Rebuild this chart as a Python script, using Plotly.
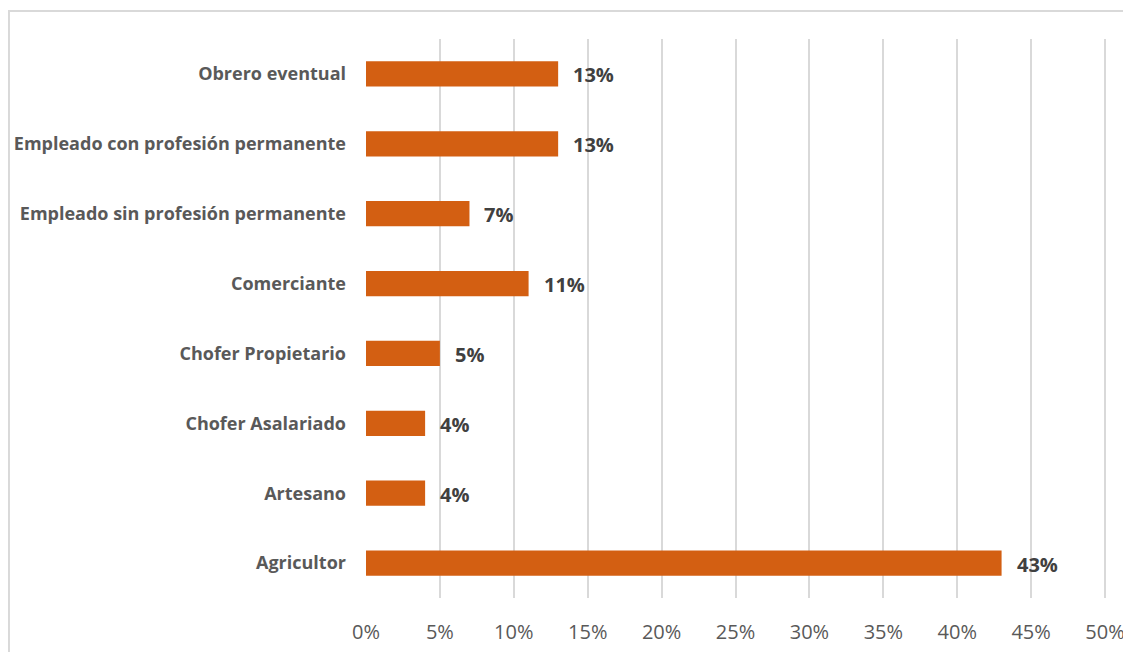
import plotly.graph_objects as go

categories = ["Agricultor", "Artesano", "Chofer Asalariado", "Chofer Propietario",
              "Comerciante", "Empleado sin profesión permanente",
              "Empleado con profesión permanente", "Obrero eventual"]
values = [43, 4, 4, 5, 11, 7, 13, 13]
tick_vals = [0, 5, 10, 15, 20, 25, 30, 35, 40, 45, 50]
tick_text = [f"{v}%" for v in tick_vals]

BAR = "#D35F12"
FONT = "Open Sans"

fig = go.Figure(go.Bar(
    y=categories, x=values, orientation="h",
    marker=dict(color=BAR, line=dict(width=0)),
    width=0.36, hoverinfo="skip",
))

for c, v in zip(categories, values):
    fig.add_annotation(x=v, y=c, text=f"<b>{v}%</b>", showarrow=False,
                       xanchor="left", xshift=13, yshift=-1,
                       font=dict(family=FONT, size=20, color="#404040"))

fig.add_shape(type="rect", xref="paper", yref="paper",
              x0=-0.4812, x1=1.2, y0=-0.3, y1=1.05,
              line=dict(color="#D9D9D9", width=2), layer="below")

fig.update_layout(
    width=1123, height=644,
    margin=dict(l=358, r=23, t=31, b=54, autoexpand=False),
    paper_bgcolor="white", plot_bgcolor="white",
    showlegend=False,
    xaxis=dict(range=[0, 50.2], tickvals=tick_vals, ticktext=tick_text,
               showgrid=True, gridcolor="#D9D9D9", gridwidth=2,
               zeroline=False, showline=False, automargin=False,
               tickfont=dict(family=FONT, size=20, color="#595959"),
               ticklabelstandoff=20, fixedrange=True),
    yaxis=dict(categoryorder="array", categoryarray=categories,
               showgrid=False, zeroline=False, showline=False, automargin=False,
               tickfont=dict(family=FONT, size=18, color="#595959", weight="bold"),
               ticklabelstandoff=19, fixedrange=True),
)

fig.write_html("out.html")
